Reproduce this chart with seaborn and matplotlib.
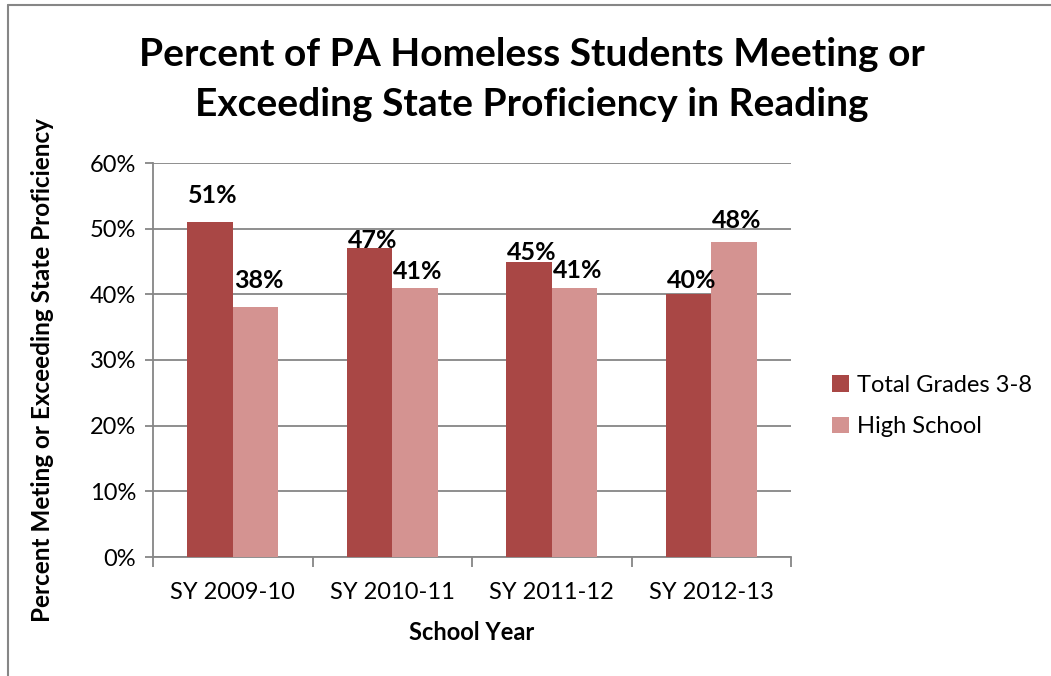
import numpy as np
import pandas as pd
import matplotlib
matplotlib.use("Agg")
import matplotlib.pyplot as plt
import seaborn as sns
from matplotlib.ticker import PercentFormatter, FixedLocator
from matplotlib.lines import Line2D

# data
years = ['SY 2009-10', 'SY 2010-11', 'SY 2011-12', 'SY 2012-13']
grades_3_8 = [51, 47, 45, 40]
high_school = [38, 41, 41, 48]
series_names = ['Total Grades 3-8', 'High School']
colors = ['#A94745', '#D49391']
# gap (pixels) between bar top and label baseline, as placed in the original
label_gaps = [[19, 0, 2, 6], [19, 9, 10, 14]]

df = pd.DataFrame({
    'year': years * 2,
    'value': grades_3_8 + high_school,
    'series': [series_names[0]] * 4 + [series_names[1]] * 4,
})

sns.set_style('white')
plt.rcParams['font.family'] = ['Lato', 'DejaVu Sans']
plt.rcParams.update({'text.color': 'black', 'axes.labelcolor': 'black',
                     'xtick.color': 'black', 'ytick.color': 'black'})

fig = plt.figure(figsize=(10.51, 6.76), dpi=100)
ax = fig.add_axes([153 / 1051, 1 - 557 / 676, 638 / 1051, 394 / 676])

sns.barplot(data=df, x='year', y='value', hue='series', palette=colors,
            width=0.57, saturation=1, linewidth=0, ax=ax, zorder=3, legend=True)

grid_c = '#868686'
ax.set_ylim(0, 60)
ax.set_xlim(-0.5, 3.5)
ax.yaxis.set_major_locator(FixedLocator([0, 10, 20, 30, 40, 50, 60]))
ax.yaxis.set_major_formatter(PercentFormatter(xmax=100, decimals=0))
ax.grid(axis='y', color=grid_c, linewidth=1.3, zorder=0)
ax.set_axisbelow(True)
for s in ['top', 'right']:
    ax.spines[s].set_visible(False)
for s in ['left', 'bottom']:
    ax.spines[s].set_color(grid_c)
    ax.spines[s].set_linewidth(1.3)

ax.tick_params(axis='y', which='major', direction='out', length=6, width=1.3,
               color=grid_c, left=True, labelsize=17, pad=6)
ax.tick_params(axis='x', which='major', length=0, labelsize=17, pad=18)
ax.set_xticks(np.arange(-0.5, 4, 1), minor=True)
ax.tick_params(axis='x', which='minor', direction='out', length=7, width=1.3,
               color=grid_c, bottom=True)

ax.set_xlabel('School Year', fontsize=17, fontweight='bold', labelpad=13)
ax.set_ylabel('Percent Meting or Exceeding State Proficiency', fontsize=17.5,
              fontweight='bold')
ax.yaxis.set_label_coords(-0.155, 0.475)

for cont, gaps in zip(ax.containers, label_gaps):
    for bar, gap in zip(cont, gaps):
        h = bar.get_height()
        ax.annotate(f'{h:.0f}%', (bar.get_x() + bar.get_width() / 2, h),
                    xytext=(3, gap), textcoords='offset pixels',
                    ha='center', va='baseline', fontsize=18, fontweight='bold')

leg = ax.legend(loc='center left', bbox_to_anchor=(811 / 1051, 1 - 406 / 676),
                bbox_transform=fig.transFigure, frameon=False, fontsize=17,
                handlelength=0.7, handleheight=0.7, handletextpad=0.35,
                labelspacing=0.85)

fig.text(0.506, 1 - 55 / 676, 'Percent of PA Homeless Students Meeting or',
         ha='center', va='center', fontsize=28, fontweight='bold')
fig.text(0.506, 1 - 105 / 676, 'Exceeding State Proficiency in Reading',
         ha='center', va='center', fontsize=28, fontweight='bold')

# outer chart border (top and left edges visible)
fig.add_artist(Line2D([8 / 1051, 1], [1 - 5 / 676, 1 - 5 / 676],
                      transform=fig.transFigure, color=grid_c, linewidth=1.5))
fig.add_artist(Line2D([8 / 1051, 8 / 1051], [0, 1 - 5 / 676],
                      transform=fig.transFigure, color=grid_c, linewidth=1.5))

fig.savefig('out.png', dpi=100)
